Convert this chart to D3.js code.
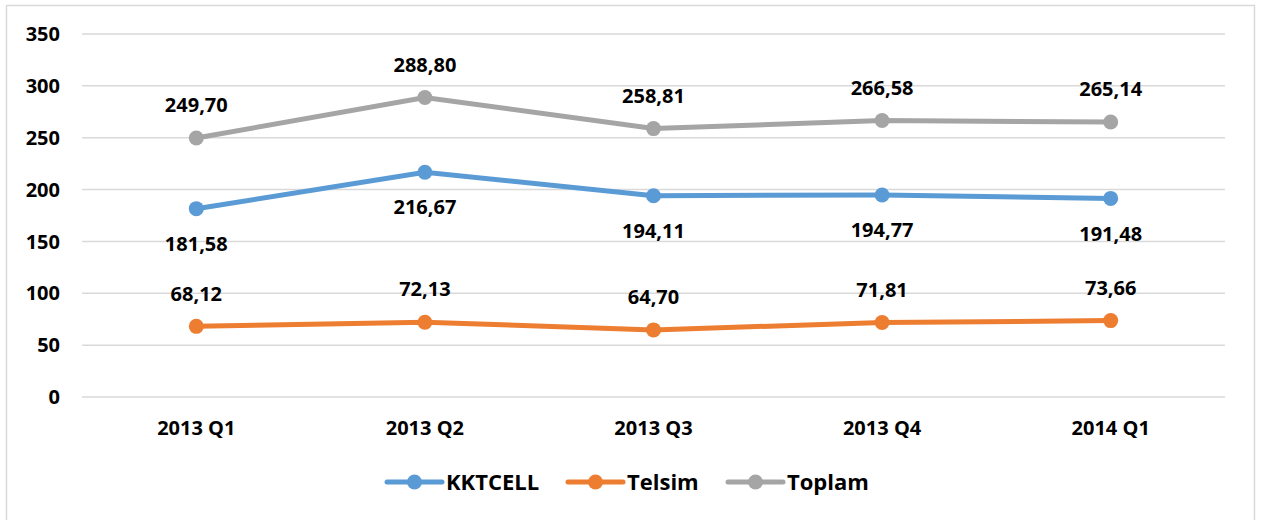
<!DOCTYPE html>
<html>
<head>
<meta charset="utf-8">
<script src="https://cdn.jsdelivr.net/npm/d3@7"></script>
<style>
  body { margin: 0; background: #fff; }
  text { font-family: "Open Sans", sans-serif; font-weight: bold; fill: #000; }
</style>
</head>
<body>
<div id="chart"></div>
<script>
var categories = ["2013 Q1", "2013 Q2", "2013 Q3", "2013 Q4", "2014 Q1"];
var kktcell = [181.58, 216.67, 194.11, 194.77, 191.48];
var telsim = [68.12, 72.13, 64.70, 71.81, 73.66];
var toplam = [249.70, 288.80, 258.81, 266.58, 265.14];
var yTicks = [0, 50, 100, 150, 200, 250, 300, 350];

(function () {
    var width = 1262, height = 520;

    var svg = d3.select("#chart")
        .append("svg")
        .attr("width", width)
        .attr("height", height);

    // outer frame
    svg.append("rect")
        .attr("x", 6.5).attr("y", 5.5)
        .attr("width", 1248).attr("height", 520)
        .attr("fill", "none")
        .attr("stroke", "#d9d9d9")
        .attr("stroke-width", 1.5);

    var x = d3.scaleBand().domain(categories).range([82, 1225]).padding(0);
    var y = d3.scaleLinear().domain([0, 350]).range([397, 34]);

    var fmt = d3.formatLocale({ decimal: ",", thousands: ".", grouping: [3], currency: ["", ""] }).format(".2f");

    // gridlines
    svg.append("g").selectAll("line")
        .data(yTicks)
        .enter().append("line")
        .attr("x1", 82).attr("x2", 1225)
        .attr("y1", function (d) { return y(d); })
        .attr("y2", function (d) { return y(d); })
        .attr("stroke", "#d9d9d9")
        .attr("stroke-width", 1.5);

    // y axis labels
    svg.append("g").selectAll("text")
        .data(yTicks)
        .enter().append("text")
        .attr("x", 60)
        .attr("y", function (d) { return y(d); })
        .attr("dy", "0.36em")
        .attr("text-anchor", "end")
        .style("font-size", "20px")
        .text(function (d) { return d; });

    // x axis labels
    svg.append("g").selectAll("text")
        .data(categories)
        .enter().append("text")
        .attr("x", function (d) { return x(d) + x.bandwidth() / 2; })
        .attr("y", 428)
        .attr("dy", "0.36em")
        .attr("text-anchor", "middle")
        .style("font-size", "20px")
        .text(function (d) { return d; });

    var series = [
        { name: "KKTCELL", values: kktcell, color: "#5b9bd5", off: 35 },
        { name: "Telsim", values: telsim, color: "#ed7d31", off: -33 },
        { name: "Toplam", values: toplam, color: "#a5a5a5", off: -33 }
    ];

    var line = d3.line()
        .x(function (d, i) { return x(categories[i]) + x.bandwidth() / 2; })
        .y(function (d) { return y(d); });

    series.forEach(function (s) {
        var g = svg.append("g");
        g.append("path")
            .attr("d", line(s.values))
            .attr("fill", "none")
            .attr("stroke", s.color)
            .attr("stroke-width", 5)
            .attr("stroke-linecap", "round");
        g.selectAll("circle")
            .data(s.values)
            .enter().append("circle")
            .attr("cx", function (d, i) { return x(categories[i]) + x.bandwidth() / 2; })
            .attr("cy", function (d) { return y(d); })
            .attr("r", 7.5)
            .attr("fill", s.color);
        g.selectAll("text")
            .data(s.values)
            .enter().append("text")
            .attr("x", function (d, i) { return x(categories[i]) + x.bandwidth() / 2; })
            .attr("y", function (d) { return y(d) + s.off; })
            .attr("dy", "0.36em")
            .attr("text-anchor", "middle")
            .style("font-size", "20px")
            .text(function (d) { return fmt(d); });
    });

    // legend
    var legendX = [387, 568, 728];
    var legend = svg.append("g").selectAll("g")
        .data(series)
        .enter().append("g")
        .attr("transform", function (d, i) { return "translate(" + legendX[i] + ",482)"; });
    legend.append("line")
        .attr("x1", 0).attr("x2", 55)
        .attr("stroke", function (d) { return d.color; })
        .attr("stroke-width", 5)
        .attr("stroke-linecap", "round");
    legend.append("circle")
        .attr("cx", 27.5).attr("r", 7.5)
        .attr("fill", function (d) { return d.color; });
    legend.append("text")
        .attr("x", 59)
        .attr("dy", "0.36em")
        .style("font-size", "22px")
        .text(function (d) { return d.name; });
})();
</script>
</body>
</html>
